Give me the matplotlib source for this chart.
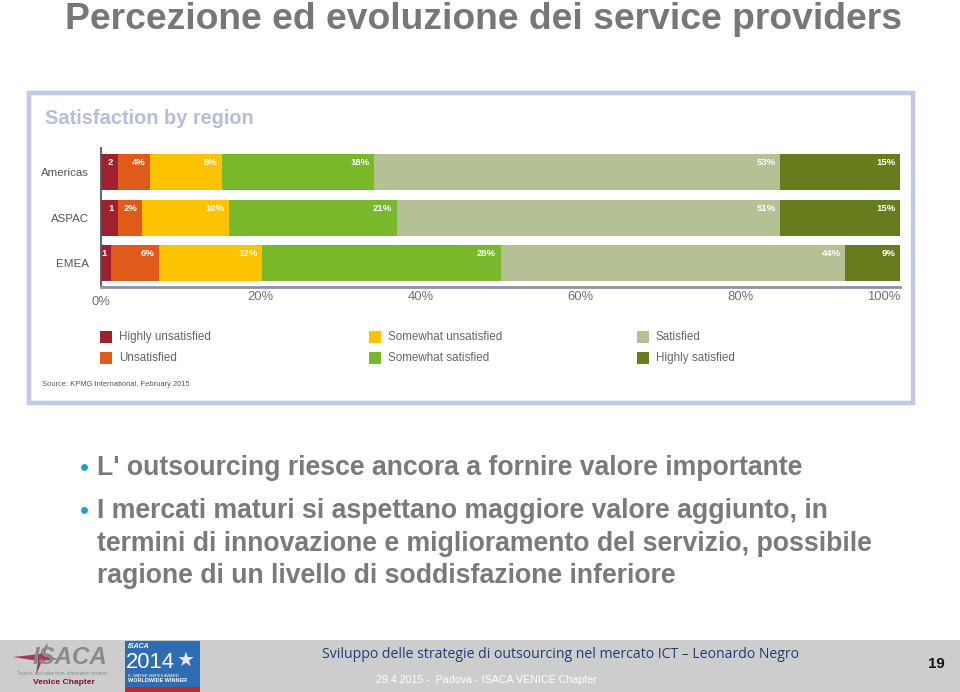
import matplotlib
matplotlib.use("Agg")
import matplotlib.pyplot as plt
from matplotlib.patches import Rectangle, Polygon
from matplotlib.lines import Line2D
import numpy as np

W, H = 960, 692
DPI = 100

# ---------------- data ----------------
regions = ["Americas", "ASPAC", "EMEA"]
categories = ["Highly unsatisfied", "Unsatisfied", "Somewhat unsatisfied",
              "Somewhat satisfied", "Satisfied", "Highly satisfied"]
colors = ["#a0202f", "#e05a1a", "#fbc300", "#79b82a", "#b5c095", "#677d1d"]
# segment widths (% of bar) as drawn in the picture
highly_unsat = [2.1, 2.1, 1.3]
unsat = [4.0, 3.0, 5.9]
somewhat_unsat = [9.0, 10.9, 13.0]
somewhat_sat = [19.1, 21.0, 29.8]
satisfied = [50.8, 48.0, 43.1]
highly_sat = [15.0, 15.0, 6.9]
# printed labels
labels_americas = ["2", "4%", "8%", "18%", "53%", "15%"]
labels_aspac = ["1", "2%", "10%", "21%", "51%", "15%"]
labels_emea = ["1", "6%", "12%", "28%", "44%", "9%"]
xticks = [0, 20, 40, 60, 80, 100]
xtick_labels = ["0%", "20%", "40%", "60%", "80%", "100%"]

slide_title = "Percezione ed evoluzione dei service providers"
chart_title = "Satisfaction by region"
source = "Source: KPMG International, February 2015"
bullets = [
    ["L' outsourcing riesce ancora a fornire valore importante"],
    ["I mercati maturi si aspettano maggiore valore aggiunto, in",
     "termini di innovazione e miglioramento del servizio, possibile",
     "ragione di un livello di soddisfazione inferiore"],
]
footer_title = "Sviluppo delle strategie di outsourcing nel mercato ICT \u2013 Leonardo Negro"
footer_sub = "29.4.2015 -  Padova - ISACA VENICE Chapter"
page_no = "19"

ARIAL = ["Liberation Sans", "DejaVu Sans"]
NARROW = ARIAL


def fx(x):
    return x / W


def fy(y):
    return 1 - y / H


def pt(px):
    return px * 72 / DPI


fig = plt.figure(figsize=(W / DPI, H / DPI), dpi=DPI)
fig.patch.set_facecolor("white")

# ---------------- slide title ----------------
fig.text(fx(65), fy(29), slide_title, fontsize=pt(37.2), fontweight="bold",
         color="#777777", family=ARIAL, ha="left", va="baseline")

# ---------------- chart frame ----------------
fig.patches.append(Rectangle((fx(29), fy(403)), fx(913) - fx(29), fy(93) - fy(403),
                             transform=fig.transFigure, facecolor="white",
                             edgecolor="#c3c9e5", linewidth=3.2, zorder=-1))
fig.text(fx(45), fy(119), chart_title, fontsize=pt(20), fontweight="bold",
         color="#b5bcdc", family=ARIAL, ha="left", va="center")

# ---------------- bar chart ----------------
ax = fig.add_axes([fx(101), fy(287), fx(900) - fx(101), fy(148) - fy(287)])
ax.set_zorder(3)
series = [highly_unsat, unsat, somewhat_unsat, somewhat_sat, satisfied, highly_sat]
all_labels = [labels_americas, labels_aspac, labels_emea]
ypos = np.arange(len(regions))
left = np.zeros(len(regions))
bh = 0.79
for i, vals in enumerate(series):
    vals = np.array(vals)
    ax.barh(ypos, vals, left=left, height=bh, color=colors[i], edgecolor="none")
    for r in range(len(regions)):
        ax.text(left[r] + vals[r] - 0.55, ypos[r] - 0.21, all_labels[r][i],
                ha="right", va="center", color="white", fontsize=pt(9.5),
                fontweight="bold", family=NARROW)
    left = left + vals

ax.set_xlim(0, 100)
ax.set_ylim(2.516, -0.527)
ax.set_yticks(ypos)
ax.set_yticklabels(regions, family=NARROW, fontsize=pt(11.5), color="#555555")
ax.tick_params(axis="y", length=0, pad=8.5)
ax.set_xticks([])
for s in ["top", "right"]:
    ax.spines[s].set_visible(False)
ax.spines["left"].set_color("#555555")
ax.spines["left"].set_linewidth(1.3)
ax.spines["bottom"].set_color("#8d91a5")
ax.spines["bottom"].set_linewidth(2.0)
ax.set_facecolor("none")
xt = ax.get_xaxis_transform()
for v, lab in zip(xticks, xtick_labels):
    ha = "right" if v == 100 else "center"
    yoff = -0.075 if v != 0 else -0.11
    ax.text(v, yoff, lab, transform=xt, ha=ha, va="center",
            family=NARROW, fontsize=pt(13), color="#707070")

# ---------------- legend ----------------
leg_pos = [(100, 337), (100, 358), (369, 337), (369, 358), (637, 337), (637, 358)]
for (lx, ly), c, lab in zip(leg_pos, colors, categories):
    fig.patches.append(Rectangle((fx(lx), fy(ly + 6)), fx(12), fy(0) - fy(12),
                                 transform=fig.transFigure, facecolor=c,
                                 edgecolor="none"))
    fig.text(fx(lx + 19), fy(ly), lab, family=NARROW, fontsize=pt(11.6),
             color="#666666", ha="left", va="center")
fig.text(fx(42), fy(385), source, family=NARROW, fontsize=pt(7.5),
         color="#555555", ha="left", va="center")

# ---------------- bullets ----------------
line_y = [[467], [510, 543, 575]]
for blines, ys in zip(bullets, line_y):
    fig.add_artist(Line2D([fx(84)], [fy(ys[0])], marker="o", markersize=pt(5.5),
                          color="#239fd4", transform=fig.transFigure))
    for t, yy in zip(blines, ys):
        fig.text(fx(97), fy(yy + 1), t, family=ARIAL, fontsize=pt(26.6),
                 fontweight="bold", color="#7a7a7a", ha="left", va="center")

# ---------------- footer ----------------
fig.patches.append(Rectangle((0, 0), 1, fy(640), transform=fig.transFigure,
                             facecolor="#cdcdcd", edgecolor="none"))
fig.text(fx(322), fy(654), footer_title, family=["Open Sans", "DejaVu Sans"],
         fontsize=pt(14.0), color="#1f3b73", ha="left", va="center")
fig.text(fx(376), fy(680), footer_sub, family=ARIAL, fontsize=pt(10.6),
         color="white", ha="left", va="center")
fig.text(fx(936), fy(664), page_no, family=ARIAL, fontsize=pt(15),
         fontweight="bold", color="#111111", ha="center", va="center")

# ISACA logo (approximation)
star = Polygon([(fx(13), fy(657)), (fx(40), fy(654)), (fx(48), fy(643)),
                (fx(44), fy(656)), (fx(58), fy(659)), (fx(42), fy(661)),
                (fx(36), fy(675)), (fx(38), fy(661))],
               closed=True, transform=fig.transFigure, facecolor="#a23a5a",
               edgecolor="none")
fig.patches.append(star)
fig.text(fx(70), fy(657), "ISACA", family=ARIAL, fontsize=pt(24),
         fontweight="bold", fontstyle="italic", color="#8a8a8a",
         ha="center", va="center")
fig.text(fx(62), fy(673), "Trust in, and value from, information systems",
         family=ARIAL, fontsize=pt(4.5), color="#8a8a8a", ha="center", va="center")
fig.text(fx(64), fy(683), "Venice Chapter", family=ARIAL, fontsize=pt(8.5),
         fontweight="bold", color="#7a1630", ha="center", va="center")

# 2014 award badge (approximation)
fig.patches.append(Rectangle((fx(125), fy(692)), fx(75), fy(641) - fy(692),
                             transform=fig.transFigure, facecolor="#2f6db3",
                             edgecolor="none"))
fig.patches.append(Rectangle((fx(125), fy(692)), fx(75), fy(687) - fy(692),
                             transform=fig.transFigure, facecolor="#c0282d",
                             edgecolor="none"))
fig.text(fx(128), fy(646), "ISACA", family=ARIAL, fontsize=pt(7),
         fontweight="bold", fontstyle="italic", color="white", ha="left", va="center")
fig.text(fx(126), fy(662), "2014", family=ARIAL, fontsize=pt(22),
         color="white", ha="left", va="center")
fig.text(fx(128), fy(676), "K. WAYNE SNIPES AWARD", family=ARIAL, fontsize=pt(4),
         color="white", ha="left", va="center")
fig.text(fx(128), fy(681), "WORLDWIDE WINNER", family=ARIAL, fontsize=pt(5.5),
         fontweight="bold", color="white", ha="left", va="center")
fig.text(fx(186), fy(660), "\u2605", family=["DejaVu Sans"], fontsize=pt(20),
         color="#e8e8f0", ha="center", va="center")

fig.savefig("out.png", dpi=DPI)
